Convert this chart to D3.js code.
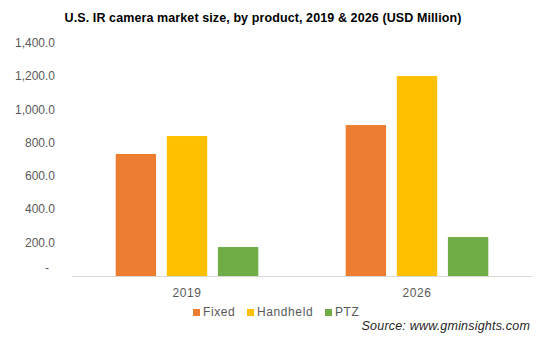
<!DOCTYPE html>
<html lang="en">
<head>
    <meta charset="UTF-8">
    <title>U.S. IR camera market size</title>
    <script src="https://d3js.org/d3.v7.min.js"></script>
    <style>
        body { margin: 0; background: #fff; }
        text { font-family: "Liberation Sans", Arial, sans-serif; }
        .title { font-size: 12.5px; font-weight: bold; fill: #000; letter-spacing: 0.1px; }
        .tick-label { font-size: 12px; fill: #595959; }
        .cat-label { font-size: 12px; fill: #595959; letter-spacing: 0.6px; }
        .legend text { font-size: 12px; fill: #595959; letter-spacing: 0.6px; }
        .source { font-size: 12.5px; font-style: italic; fill: #262626; letter-spacing: 0.2px; }
    </style>
</head>
<body>
    <svg id="chart" width="546" height="339"></svg>

    <script>
        const years = ["2019", "2026"];
        const products = ["Fixed", "Handheld", "PTZ"];
        const fixedValues = [733, 907];
        const handheldValues = [841, 1202];
        const ptzValues = [174, 234];
        const yTicks = [0, 200, 400, 600, 800, 1000, 1200, 1400];
        const colors = ["#ED7D31", "#FFC000", "#70AD47"];

        const seriesValues = [fixedValues, handheldValues, ptzValues];

        const svg = d3.select("#chart");
        const plotLeft = 72, plotRight = 532, plotTop = 43, plotBottom = 276;

        const x0 = d3.scaleBand()
            .domain(years)
            .range([plotLeft, plotRight])
            .paddingInner(0.38)
            .paddingOuter(0.19);

        const x1 = d3.scaleBand()
            .domain(products)
            .range([0, x0.bandwidth()])
            .paddingInner(0.21);

        const y = d3.scaleLinear()
            .domain([0, 1400])
            .range([plotBottom, plotTop]);

        const color = d3.scaleOrdinal().domain(products).range(colors);

        // Title
        svg.append("text")
           .attr("class", "title")
           .attr("x", 263)
           .attr("y", 22)
           .attr("text-anchor", "middle")
           .text("U.S. IR camera market size, by product, 2019 & 2026 (USD Million)");

        // Y axis labels (no gridlines)
        const fmt = d3.format(",.1f");
        svg.selectAll(".tick-label")
           .data(yTicks)
           .enter()
           .append("text")
           .attr("class", "tick-label")
           .attr("x", d => d === 0 ? 49 : 55)
           .attr("y", d => y(d) + (d === 0 ? -4 : 4))
           .attr("text-anchor", "end")
           .text(d => d === 0 ? "-" : fmt(d));

        // Bars
        const groups = svg.selectAll(".year")
            .data(years)
            .enter()
            .append("g")
            .attr("class", "year")
            .attr("transform", d => `translate(${x0(d)},0)`);

        groups.selectAll("rect")
            .data((d, i) => products.map((p, j) => ({ product: p, value: seriesValues[j][i] })))
            .enter()
            .append("rect")
            .attr("x", d => x1(d.product))
            .attr("y", d => y(d.value))
            .attr("width", x1.bandwidth())
            .attr("height", d => y(0) - y(d.value))
            .attr("fill", d => color(d.product));

        // Baseline
        svg.append("line")
           .attr("x1", plotLeft)
           .attr("x2", plotRight)
           .attr("y1", y(0) + 0.5)
           .attr("y2", y(0) + 0.5)
           .attr("stroke", "#D9D9D9")
           .attr("stroke-width", 1);

        // Category labels
        svg.selectAll(".cat-label")
           .data(years)
           .enter()
           .append("text")
           .attr("class", "cat-label")
           .attr("x", d => x0(d) + x0.bandwidth() / 2)
           .attr("y", 297)
           .attr("text-anchor", "middle")
           .text(d => d);

        // Legend
        const legendX = [193, 247, 325];
        const legend = svg.append("g").attr("class", "legend");
        products.forEach((p, i) => {
            legend.append("rect")
                .attr("x", legendX[i])
                .attr("y", 309)
                .attr("width", 7)
                .attr("height", 7)
                .attr("fill", color(p));
            legend.append("text")
                .attr("x", legendX[i] + 10)
                .attr("y", 316)
                .text(p);
        });

        // Source
        svg.append("text")
           .attr("class", "source")
           .attr("x", 530)
           .attr("y", 330)
           .attr("text-anchor", "end")
           .text("Source: www.gminsights.com");
    </script>
</body>
</html>
